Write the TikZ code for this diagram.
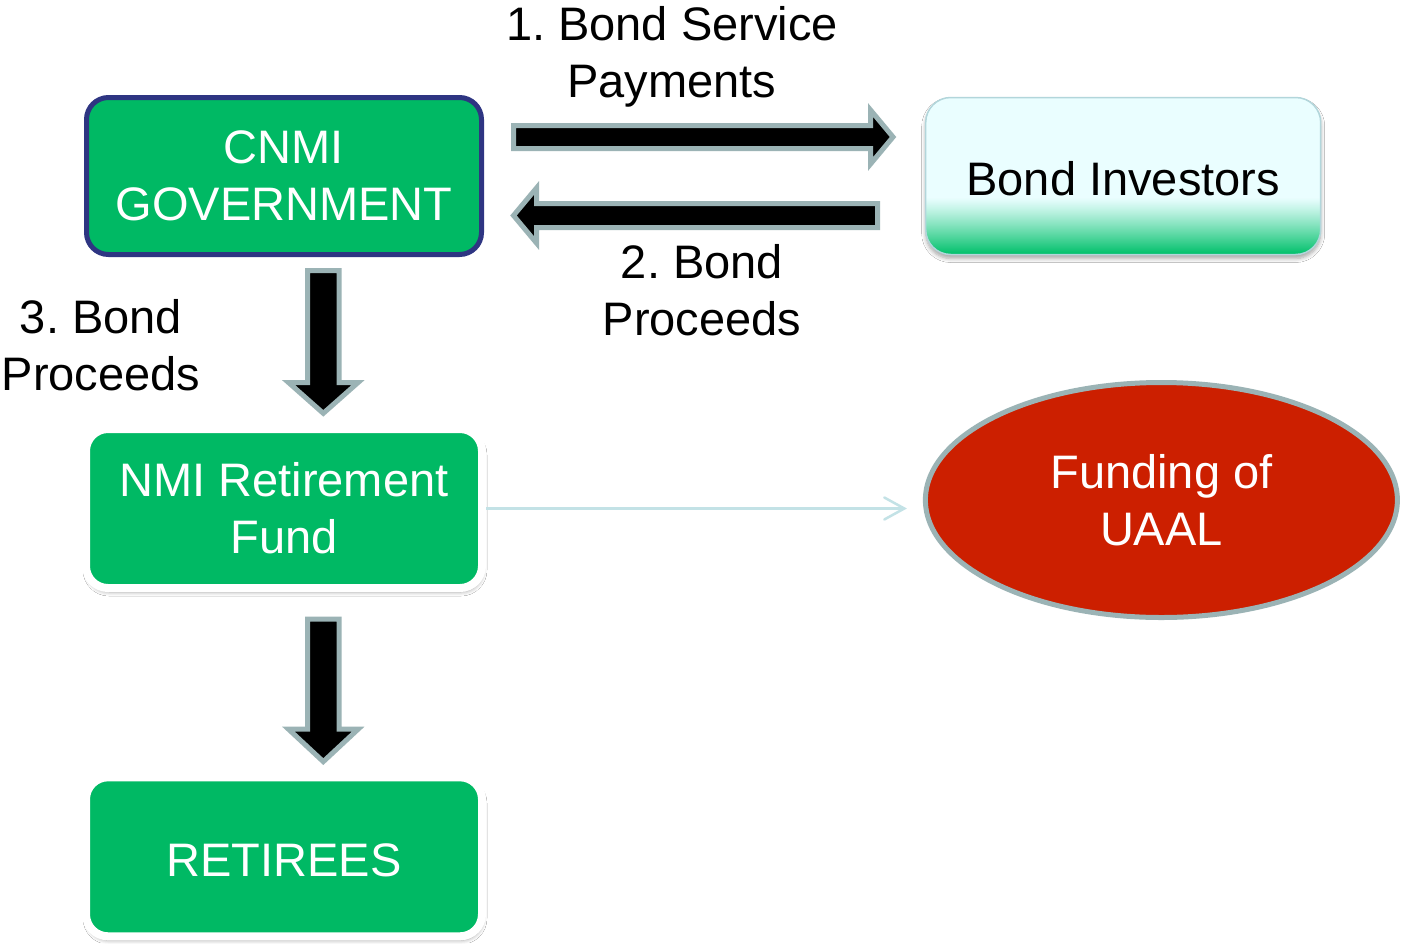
\documentclass[tikz,border=0pt]{standalone}
\usepackage{fontspec}
\setmainfont{Liberation Sans}
\frenchspacing
\usetikzlibrary{calc,shapes.geometric,arrows.meta,shadows.blur}

\definecolor{boxgreen}{RGB}{0,185,100}
\definecolor{govnavy}{RGB}{46,53,130}
\definecolor{arrowgray}{RGB}{155,179,181}
\definecolor{invtop}{RGB}{234,254,255}
\definecolor{invgreen}{RGB}{0,192,106}
\definecolor{invedge}{RGB}{178,214,219}
\definecolor{uaalred}{RGB}{204,31,0}
\definecolor{linkcyan}{RGB}{195,226,230}

% Block arrow: #1 tail, #2 tip, #3 half shaft width, #4 half head width, #5 head length
\newcommand{\blockarrow}[5]{%
  \coordinate (ba-neck) at ($(#2)!#5pt!(#1)$);
  \draw[blockarrowstyle]
    ($(#1)!#3pt!90:(#2)$) -- ($(ba-neck)!#3pt!90:(#2)$) -- ($(ba-neck)!#4pt!90:(#2)$)
    -- (#2)
    -- ($(ba-neck)!#4pt!-90:(#2)$) -- ($(ba-neck)!#3pt!-90:(#2)$) -- ($(#1)!#3pt!-90:(#2)$)
    -- cycle;}

% Green fade along the lower edge of the investors box, built from thin strips
\newcommand{\investorfade}{%
  \foreach \k in {0,...,57}{%
    \pgfmathsetmacro{\fadepct}{100*(\k/57)^1.15}%
    \fill[sharp corners, invgreen!\fadepct!invtop]
      ($(path picture bounding box.south west)+(0pt,{(58-\k)*1pt})$)
      rectangle ($(path picture bounding box.south east)+(0pt,{(56.5-\k)*1pt})$);}}

\tikzset{
  bigtext/.style={font=\fontsize{47}{57}\selectfont, align=center},
  oneline/.style={text height=39.5pt, text depth=0pt},
  blockarrowstyle/.style={fill=black, draw=arrowgray, line width=5pt, line join=miter},
  govbox/.style={bigtext, text=white, fill=boxgreen, draw=govnavy, line width=5pt,
    rounded corners=22pt, minimum width=395pt, minimum height=157pt, inner sep=0pt},
  fundbox/.style={bigtext, text=white, fill=boxgreen, draw=white, line width=8pt,
    rounded corners=22pt, minimum width=396pt, minimum height=159pt, inner sep=0pt,
    blur shadow={shadow xshift=1pt, shadow yshift=-4pt, shadow blur radius=4pt,
      shadow blur steps=6, shadow opacity=35}},
  invbox/.style={bigtext, text=black, fill=invtop, draw=invedge, line width=1.5pt,
    rounded corners=25pt, minimum width=395pt, minimum height=157pt, inner sep=0pt,
    blur shadow={shadow xshift=0pt, shadow yshift=-4pt, shadow blur radius=4pt,
      shadow blur steps=6, shadow opacity=35},
    path picture={\investorfade}},
  goalellipse/.style={bigtext, text=white, ellipse, fill=uaalred, draw=arrowgray,
    line width=5pt, minimum width=472pt, minimum height=235pt, inner sep=0pt},
  steplabel/.style={bigtext, text=black, inner sep=0pt},
  link/.style={draw=linkcyan, line width=2.5pt,
    -{Straight Barb[length=20pt, width=22pt, line cap=round]}}
}

\begin{document}
\begin{tikzpicture}[x=1pt, y=-1pt]
  \useasboundingbox (0,0) rectangle (1401,943);
  \fill[white] (0,0) rectangle (1401,943);

  % boxes
  \node[govbox] (cnmi) at (284,176) {CNMI\\GOVERNMENT};
  \node[invbox, oneline] (investors) at (1123.2,176) {Bond Investors};
  \node[fundbox] (nmirf) at (284,508.5) {NMI Retirement\\Fund};
  \node[fundbox, oneline] (retirees) at (284,856.8) {RETIREES};
  \node[goalellipse] (uaal) at (1161.4,500) {Funding of\\UAAL};

  % step labels
  \node[steplabel] (lbl-pay) at (672,57) {1. Bond Service\\Payments};
  \node[steplabel] (lbl-proc) at (702,290) {2. Bond\\Proceeds};
  \node[steplabel] (lbl-fund) at (101,345) {3. Bond\\Proceeds};

  % block arrow end points
  \coordinate (pay-tail)  at (513.5,137);
  \coordinate (pay-tip)   at (893,137);
  \coordinate (proc-tail) at (877.5,215.5);
  \coordinate (proc-tip)  at (513.5,215.5);
  \coordinate (fund-tail) at (323.3,270.5);
  \coordinate (fund-tip)  at (323.3,413.3);
  \coordinate (ret-tail)  at (323.3,619.2);
  \coordinate (ret-tip)   at (323.3,761.6);

  \blockarrow{pay-tail}{pay-tip}{11.5}{27}{22.5}
  \blockarrow{proc-tail}{proc-tip}{12}{27.5}{23}
  \blockarrow{fund-tail}{fund-tip}{15.8}{34.8}{30.8}
  \blockarrow{ret-tail}{ret-tip}{15.8}{34.8}{32.4}

  % thin link towards the funding ellipse
  \coordinate (uaal-gap) at ($(uaal.west |- nmirf.east)+(-16,0)$);
  \draw[link] (nmirf.east) -- (uaal-gap);
\end{tikzpicture}
\end{document}
